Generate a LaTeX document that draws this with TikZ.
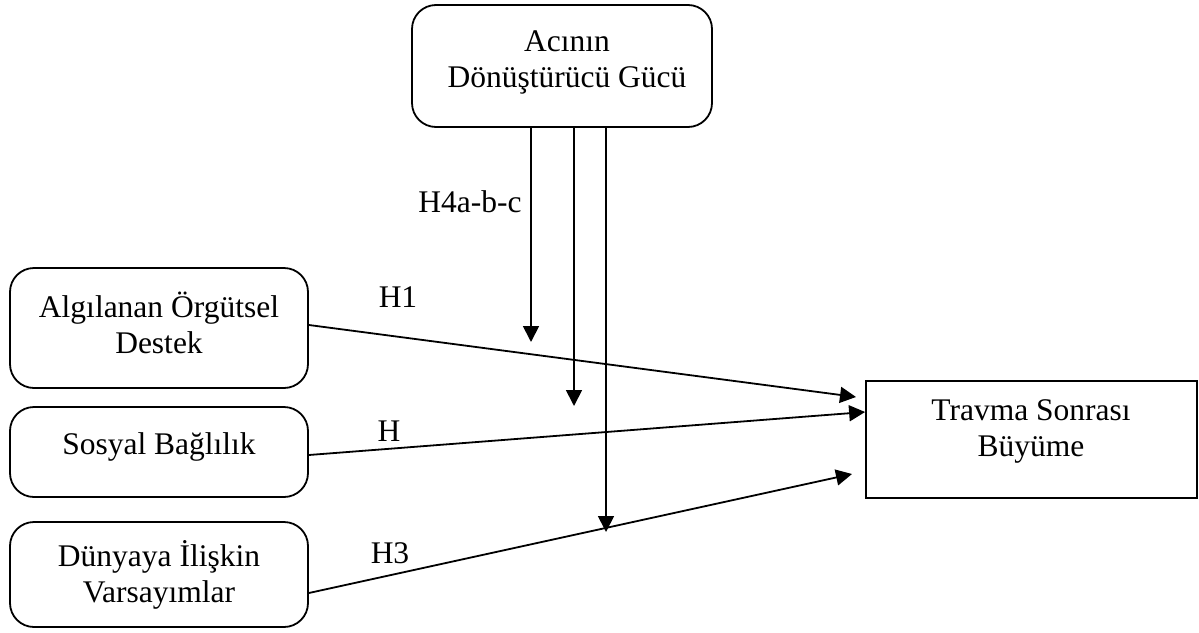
\documentclass[tikz,border=0pt]{standalone}
\usepackage{fontspec}
\setmainfont{Liberation Serif}
\usetikzlibrary{arrows.meta,calc}
\begin{document}
\begin{tikzpicture}[x=1pt,y=-1pt,
  rbox/.style={draw,line width=1.8pt,rounded corners=24pt,inner sep=0pt},
  sbox/.style={draw,line width=1.8pt,inner sep=0pt},
  txt/.style={font=\fontsize{31.5}{36}\selectfont,align=center,inner sep=0pt},
  lbl/.style={font=\fontsize{31.5}{36}\selectfont,inner sep=0pt},
  conn/.style={line width=1.8pt,-{Triangle[length=16pt,width=16pt]}}]
\useasboundingbox (0,0) rectangle (1199,632);
% boxes
\node[rbox,minimum width=300pt,minimum height=122pt] (aci) at (562,66) {};
\node[rbox,minimum width=298pt,minimum height=120pt] (aos) at (159,328) {};
\node[rbox,minimum width=298pt,minimum height=90pt] (sb) at (159,452) {};
\node[rbox,minimum width=298pt,minimum height=105pt] (dia) at (159,574.5) {};
\node[sbox,minimum width=331pt,minimum height=117pt] (tsb) at (1031.5,439.5) {};
% texts
\node[txt] (taci) at (567,62) {Acının\\Dönüştürücü Gücü};
\node[txt] (taos) at (159,323) {Algılanan Örgütsel\\Destek};
\node[txt] (tsosyal) at (159,447) {Sosyal Bağlılık};
\node[txt] (tdia) at (159,575) {Dünyaya İlişkin\\Varsayımlar};
\node[txt] (ttravma) at (1031,431) {Travma Sonrası\\Büyüme};
% labels
\node[lbl] (h1) at (398,297) {H1};
\node[lbl] (h2) at (389,431) {H};
\node[lbl] (h3) at (390,553) {H3};
\node[lbl] (h4) at (470,202) {H4a-b-c};
% end coordinates
\coordinate (e1) at (856,397);
\coordinate (e3) at (852,474);
\coordinate (v1) at (531,342);
\coordinate (v2) at (574,406);
\coordinate (v3) at (606,532);
% connectors
\draw[conn] ([yshift=3pt]aos.east) -- (e1);
\draw[conn] ([yshift=-3pt]sb.east) -- ([yshift=27.5pt]tsb.west);
\draw[conn] ([yshift=-18.5pt]dia.east) -- (e3);
\draw[conn] (aci.south -| v1) -- (v1);
\draw[conn] (aci.south -| v2) -- (v2);
\draw[conn] (aci.south -| v3) -- (v3);
\end{tikzpicture}
\end{document}
